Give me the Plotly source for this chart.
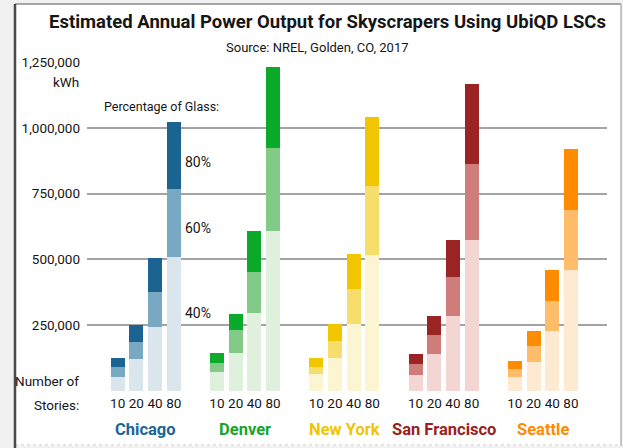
import plotly.graph_objects as go

# ---------------- data ----------------
cities = ["Chicago", "Denver", "New York", "San Francisco", "Seattle"]
stories = ["10", "20", "40", "80"]

# annual output (kWh) at 40 %, 60 %, 80 % glass
chicago_40 = [55000, 121000, 245000, 511000]
chicago_60 = [91000, 187000, 378000, 767000]
chicago_80 = [124000, 251000, 507000, 1023000]

denver_40 = [71000, 143000, 298000, 609000]
denver_60 = [108000, 231000, 454000, 924000]
denver_80 = [143000, 294000, 608000, 1232000]

newyork_40 = [64000, 127000, 256000, 517000]
newyork_60 = [93000, 191000, 387000, 778000]
newyork_80 = [125000, 254000, 521000, 1040000]

sanfran_40 = [59000, 140000, 285000, 574000]
sanfran_60 = [101000, 211000, 435000, 864000]
sanfran_80 = [140000, 286000, 574000, 1167000]

seattle_40 = [53000, 111000, 229000, 458000]
seattle_60 = [84000, 172000, 343000, 687000]
seattle_80 = [115000, 227000, 458000, 918000]

y_ticks = [0, 250000, 500000, 750000, 1000000, 1250000]
y_ticktext = ["", "250,000", "500,000", "750,000", "1,000,000", "1,250,000"]

# ---------------- styling ----------------
series = [
    (chicago_40, chicago_60, chicago_80),
    (denver_40, denver_60, denver_80),
    (newyork_40, newyork_60, newyork_80),
    (sanfran_40, sanfran_60, sanfran_80),
    (seattle_40, seattle_60, seattle_80),
]
palette = [
    ("#dae6ec", "#79a8c3", "#1b6491"),
    ("#dff0dc", "#81ca88", "#0baa2a"),
    ("#fcf5d2", "#f5de6b", "#f1c500"),
    ("#f3d6d4", "#cf7d7a", "#9a2424"),
    ("#feead0", "#ffbc69", "#ff8c00"),
]
name_colors = ["#1b6596", "#18a52c", "#f0c400", "#9a2020", "#ff8a00"]

FONT = "Roboto, Liberation Sans, sans-serif"
TXT = "#161616"
W, H = 623, 448
L, R, T, B = 87, 16, 62, 57
PW, PH = W - L - R, H - T - B
GROUP = 5.31


def px(xp):
    return (xp - L) / PW


def py(yp):
    return (H - B - yp) / PH


fig = go.Figure()
xs_all = []
for ci, (vals, cols) in enumerate(zip(series, palette)):
    xs = [ci * GROUP + j for j in range(len(stories))]
    xs_all += xs
    for v, c in zip(vals[::-1], cols[::-1]):
        fig.add_trace(go.Bar(x=xs, y=v, width=0.75, marker=dict(color=c, line=dict(width=0)),
                             showlegend=False, hoverinfo="y"))

annotations = [
    dict(text="<b>Estimated Annual Power Output for Skyscrapers Using UbiQD LSCs</b>",
         x=px(327), y=py(22), font=dict(size=18.5)),
    dict(text="Source: NREL, Golden, CO, 2017", x=px(317), y=py(47), font=dict(size=13)),
    dict(text="kWh", x=px(81), y=py(82), xanchor="right", font=dict(size=13.5)),
    dict(text="Percentage of Glass:", x=px(161), y=py(106), font=dict(size=12.5)),
    dict(text="80%", x=px(183), y=py(162), xanchor="left", font=dict(size=14)),
    dict(text="60%", x=px(183), y=py(228), xanchor="left", font=dict(size=14)),
    dict(text="40%", x=px(183), y=py(313), xanchor="left", font=dict(size=14)),
    dict(text="Number of", x=px(81), y=py(381), xanchor="right", font=dict(size=13.5)),
    dict(text="Stories:", x=px(81), y=py(405), xanchor="right", font=dict(size=13.5)),
]
for a in annotations:
    a.update(xref="paper", yref="paper", showarrow=False)
    a["font"].update(family=FONT, color=TXT)
    a.setdefault("xanchor", "center")
    a["yanchor"] = "middle"

for ci, name in enumerate(cities):
    annotations.append(dict(text=f"<b>{name}</b>", xref="x", yref="paper", x=ci * GROUP + 1.5, y=py(429),
                            showarrow=False, xanchor="center", yanchor="middle",
                            font=dict(family=FONT, size=16.5, color=name_colors[ci])))

shapes = [
    dict(type="rect", xref="paper", yref="paper", x0=px(15), x1=px(621), y0=py(446), y1=py(4),
         fillcolor="white", line=dict(width=0), layer="below"),
    dict(type="line", xref="paper", yref="paper", x0=px(15), x1=px(621), y0=py(4), y1=py(4),
         line=dict(color="#8a8a8a", width=1.5), layer="below"),
    dict(type="line", xref="paper", yref="paper", x0=px(621), x1=px(621), y0=py(446), y1=py(4),
         line=dict(color="#b5b5b5", width=1.5), layer="below"),
    dict(type="line", xref="paper", yref="paper", x0=px(15), x1=px(621), y0=py(445), y1=py(445),
         line=dict(color="#c8c8c8", width=1, dash="dot"), layer="below"),
    dict(type="line", xref="paper", yref="paper", x0=px(15), x1=px(15), y0=py(448), y1=py(4),
         line=dict(color="#4a4a4a", width=2.5), layer="below"),
]

fig.update_layout(
    width=W, height=H,
    margin=dict(l=L, r=R, t=T, b=B, pad=0),
    paper_bgcolor="#f1f1f1", plot_bgcolor="rgba(0,0,0,0)",
    barmode="overlay", bargap=0,
    annotations=annotations, shapes=shapes,
    font=dict(family=FONT, color=TXT),
    xaxis=dict(range=[-1.64, -1.64 + PW / 18.7], tickvals=xs_all, ticktext=stories * len(cities),
               showgrid=False, zeroline=False, showline=False, ticks="", tickangle=0,
               tickfont=dict(size=13.5, color=TXT), ticklabelstandoff=2, fixedrange=True),
    yaxis=dict(range=[0, 1250000], tickvals=y_ticks, ticktext=y_ticktext,
               showgrid=True, gridcolor="#a3a3a3", gridwidth=1.6, zeroline=False, showline=False,
               ticks="", ticklabelstandoff=6, tickfont=dict(size=13.5, color=TXT),
               fixedrange=True),
)

fig.write_html("out.html", config={"displayModeBar": False},
               post_script="document.body.style.margin='0';document.body.style.padding='0';")
